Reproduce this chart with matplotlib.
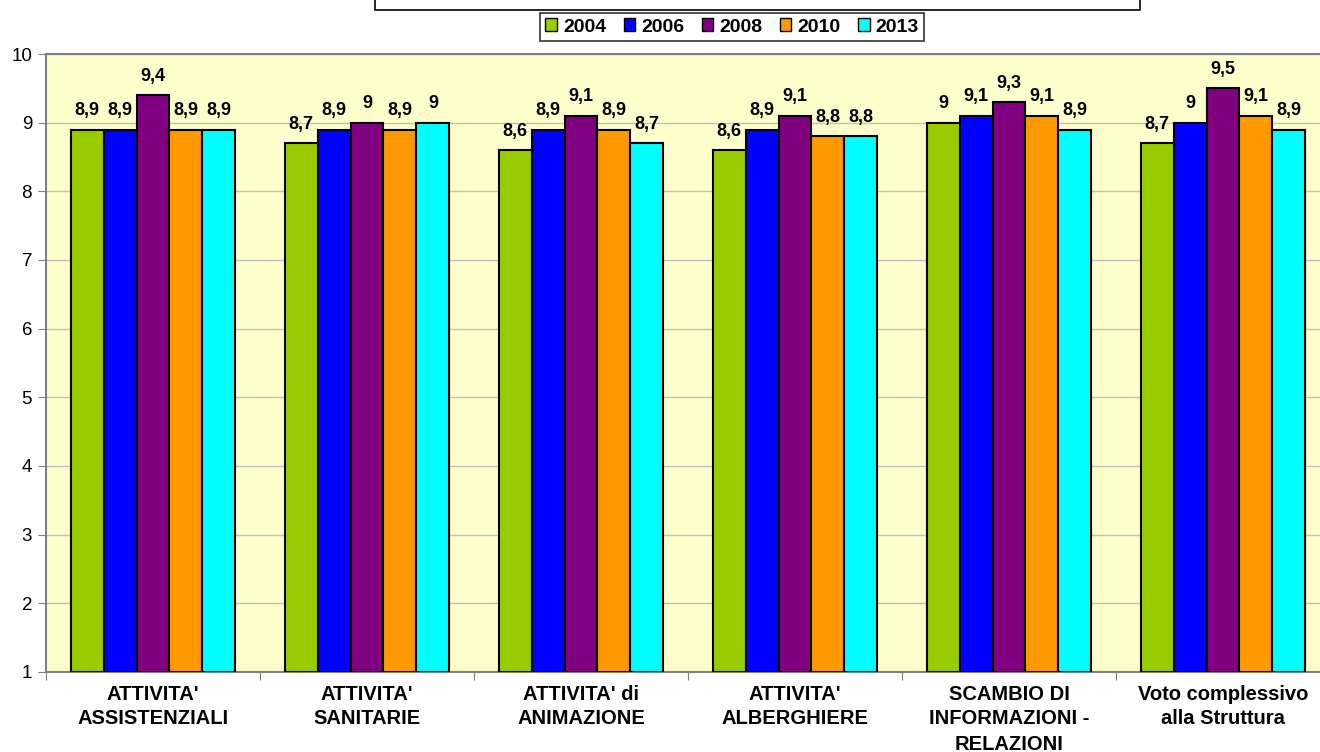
import matplotlib.pyplot as plt
import numpy as np
from matplotlib.patches import Rectangle

categories = ["ATTIVITA'\nASSISTENZIALI", "ATTIVITA'\nSANITARIE", "ATTIVITA' di\nANIMAZIONE",
              "ATTIVITA'\nALBERGHIERE", "SCAMBIO DI\nINFORMAZIONI -\nRELAZIONI",
              "Voto complessivo\nalla Struttura"]
years = ["2004", "2006", "2008", "2010", "2013"]
v2004 = [8.9, 8.7, 8.6, 8.6, 9.0, 8.7]
v2006 = [8.9, 8.9, 8.9, 8.9, 9.1, 9.0]
v2008 = [9.4, 9.0, 9.1, 9.1, 9.3, 9.5]
v2010 = [8.9, 8.9, 8.9, 8.8, 9.1, 9.1]
v2013 = [8.9, 9.0, 8.7, 8.8, 8.9, 8.9]
colors = ["#99CC00", "#0000FF", "#800080", "#FF9900", "#00FFFF"]

plt.rcParams['font.family'] = ['Liberation Sans', 'DejaVu Sans']

fig = plt.figure(figsize=(13.2, 7.52), dpi=100)
W, H = 1320, 752
ax = fig.add_axes([46 / W, (H - 672) / H, 1284 / W, 618 / H])
ax.set_facecolor("#FFFFCC")

n = len(categories)
x = np.arange(n) + 0.5
bw = 0.154
series = [v2004, v2006, v2008, v2010, v2013]
for i, (vals, c, yr) in enumerate(zip(series, colors, years)):
    pos = x + (i - 2) * bw
    ax.bar(pos, np.array(vals) - 1, bw, bottom=1, color=c, edgecolor="black",
           linewidth=1.5, label=yr, zorder=3)
    for p, v in zip(pos, vals):
        ax.text(p, v + 0.15, f"{v:g}".replace(".", ","), ha="center", va="bottom",
                fontsize=13, fontweight="bold", zorder=4)

ax.set_xlim(0, n)
ax.set_ylim(1, 10)
ax.set_yticks(range(1, 11))
ax.yaxis.grid(True, color="#C0C0C0", linewidth=1, zorder=0)
ax.set_xticks(np.arange(n + 1))
ax.set_xticklabels([])
ax.set_xticks(x, minor=True)
ax.set_xticklabels(categories, minor=True, fontsize=14.5, fontweight="bold", linespacing=1.4)
ax.tick_params(axis="x", which="minor", length=0, pad=9)
ax.tick_params(axis="x", which="major", length=6, color="#808080", direction="out")
ax.tick_params(axis="y", labelsize=13.5, length=6, color="#808080", pad=4)
for s in ["left", "bottom", "top"]:
    ax.spines[s].set_color("#808080")
    ax.spines[s].set_linewidth(1.5)
ax.spines["right"].set_visible(False)

fig.patches.append(Rectangle((375 / W, (H - 10) / H), (1140 - 375) / W, 20 / H,
                             transform=fig.transFigure, facecolor="white",
                             edgecolor="black", linewidth=1.2))

leg = fig.legend(loc="center", bbox_to_anchor=(732 / W, (H - 27) / H), ncol=5,
                 fontsize=14, frameon=True, fancybox=False, edgecolor="black",
                 handlelength=0.6, handleheight=0.6, handletextpad=0.3,
                 columnspacing=0.9, borderpad=0.3)
leg.get_frame().set_linewidth(1.2)
for t in leg.get_texts():
    t.set_fontweight("bold")
for h in leg.legend_handles:
    h.set_linewidth(1.0)

fig.savefig("out.png", dpi=100)
